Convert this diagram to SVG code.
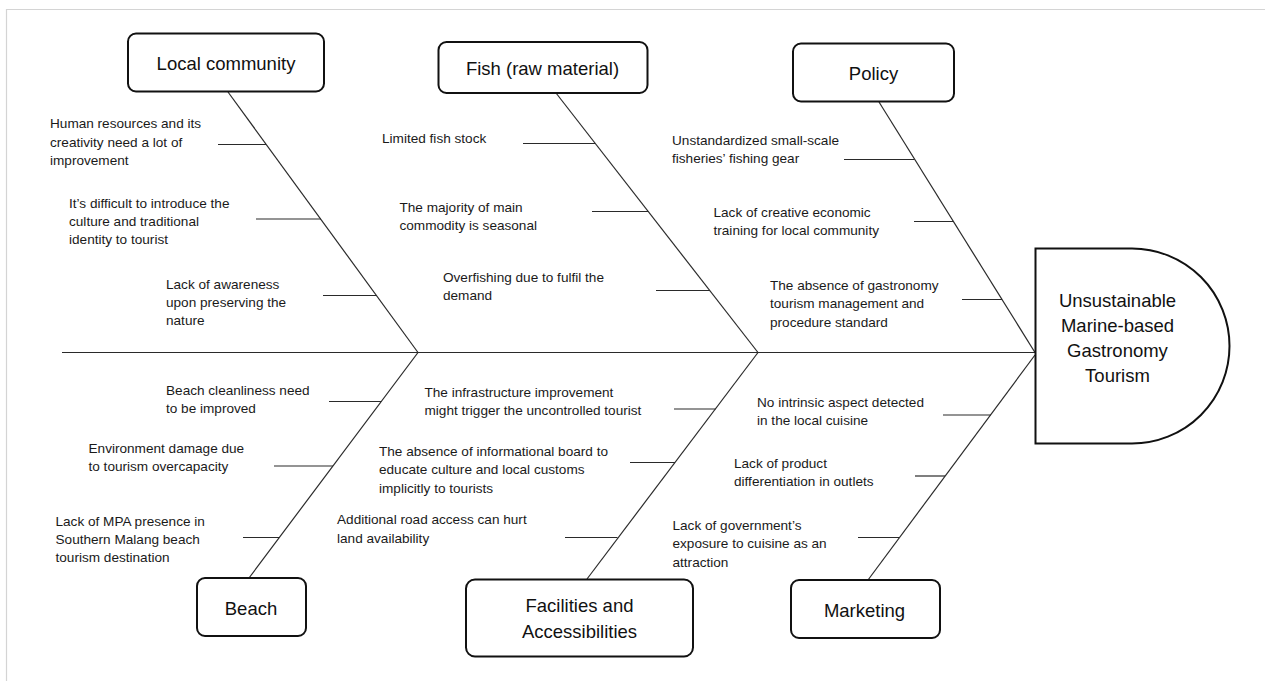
<svg xmlns="http://www.w3.org/2000/svg" width="1265" height="681" viewBox="0 0 1265 681">
<style>
.box{fill:#fff;stroke:#111;stroke-width:2}
.ln{stroke:#2a2a2a;stroke-width:1.2;fill:none}
.t{font-family:"Liberation Sans",Arial,sans-serif;font-size:13.6px;fill:#1a1a1a}
.h{font-family:"Liberation Sans",Arial,sans-serif;font-size:18.5px;fill:#111;text-anchor:middle}
</style>
<rect x="0" y="0" width="1265" height="681" fill="#fff"/>
<path d="M6.5,681 V9.5 H1265" fill="none" stroke="#d4d4d4" stroke-width="1.2"/>
<g id="connectors">
<line class="ln" x1="62" y1="352.5" x2="1035" y2="352.5"/>
<line class="ln" x1="228" y1="92" x2="418" y2="352.5"/>
<line class="ln" x1="556" y1="93" x2="758" y2="352.5"/>
<line class="ln" x1="879" y1="102" x2="1035" y2="352.5"/>
<line class="ln" x1="418" y1="352.5" x2="249" y2="578"/>
<line class="ln" x1="758" y1="352.5" x2="587" y2="579"/>
<line class="ln" x1="1035" y1="355" x2="868" y2="580"/>
<line class="ln" x1="218" y1="144.5" x2="266" y2="144.5"/>
<line class="ln" x1="256" y1="219" x2="321" y2="219"/>
<line class="ln" x1="323" y1="295.5" x2="377" y2="295.5"/>
<line class="ln" x1="523" y1="143.5" x2="595" y2="143.5"/>
<line class="ln" x1="592" y1="211.5" x2="648.5" y2="211.5"/>
<line class="ln" x1="656" y1="290.5" x2="710" y2="290.5"/>
<line class="ln" x1="844" y1="159.5" x2="914.5" y2="159.5"/>
<line class="ln" x1="914" y1="221.5" x2="953.5" y2="221.5"/>
<line class="ln" x1="962" y1="299.5" x2="1002" y2="299.5"/>
<line class="ln" x1="329" y1="401.5" x2="381.5" y2="401.5"/>
<line class="ln" x1="274" y1="466" x2="333" y2="466"/>
<line class="ln" x1="243" y1="537.5" x2="279.5" y2="537.5"/>
<line class="ln" x1="674" y1="409" x2="715.5" y2="409"/>
<line class="ln" x1="630" y1="462.5" x2="675" y2="462.5"/>
<line class="ln" x1="565" y1="537.5" x2="617.5" y2="537.5"/>
<line class="ln" x1="943" y1="415" x2="991" y2="415"/>
<line class="ln" x1="915" y1="476" x2="945" y2="476"/>
<line class="ln" x1="858" y1="537.5" x2="899" y2="537.5"/>
</g>
<g id="head">
<path class="box" d="M1035.5,248.5 H1132 A97.5,97.5 0 0 1 1132,443.5 H1035.5 Z"/>
<text class="h"><tspan x="1117.5" y="306.5">Unsustainable</tspan><tspan x="1117.5" y="331.5">Marine-based</tspan><tspan x="1117.5" y="356.5">Gastronomy</tspan><tspan x="1117.5" y="381.5">Tourism</tspan></text>
</g>
<g id="cat-local-community">
<rect class="box" x="128" y="33.5" width="196" height="58" rx="8"/>
<text class="h" x="226" y="70">Local community</text>
</g>
<g id="cat-fish">
<rect class="box" x="438.5" y="42" width="209" height="51" rx="8"/>
<text class="h" x="542.5" y="74.5">Fish (raw material)</text>
</g>
<g id="cat-policy">
<rect class="box" x="793" y="43.5" width="161" height="58" rx="8"/>
<text class="h" x="873.5" y="79.5">Policy</text>
</g>
<g id="cat-beach">
<rect class="box" x="197" y="578" width="109" height="58" rx="8"/>
<text class="h" x="251" y="614.5">Beach</text>
</g>
<g id="cat-facilities">
<rect class="box" x="466" y="579.5" width="227" height="77" rx="9"/>
<text class="h"><tspan x="579.5" y="611.5">Facilities and</tspan><tspan x="579.5" y="638">Accessibilities</tspan></text>
</g>
<g id="cat-marketing">
<rect class="box" x="791" y="580" width="149" height="58" rx="8"/>
<text class="h" x="864.5" y="616.5">Marketing</text>
</g>
<g id="cause-lc1"><text class="t"><tspan x="50" y="128.3">Human resources and its</tspan><tspan x="50" y="146.6">creativity need a lot of</tspan><tspan x="50" y="164.9">improvement</tspan></text></g>
<g id="cause-lc2"><text class="t"><tspan x="69" y="207.5">It’s difficult to introduce the</tspan><tspan x="69" y="225.8">culture and traditional</tspan><tspan x="69" y="244.1">identity to tourist</tspan></text></g>
<g id="cause-lc3"><text class="t"><tspan x="166" y="288.7">Lack of awareness</tspan><tspan x="166" y="307">upon preserving the</tspan><tspan x="166" y="325.3">nature</tspan></text></g>
<g id="cause-f1"><text class="t" x="382" y="142.7">Limited fish stock</text></g>
<g id="cause-f2"><text class="t"><tspan x="399.5" y="212">The majority of main</tspan><tspan x="399.5" y="230.3">commodity is seasonal</tspan></text></g>
<g id="cause-f3"><text class="t"><tspan x="443" y="281.7">Overfishing due to fulfil the</tspan><tspan x="443" y="300">demand</tspan></text></g>
<g id="cause-p1"><text class="t"><tspan x="672" y="145">Unstandardized small-scale</tspan><tspan x="672" y="163.3">fisheries’ fishing gear</tspan></text></g>
<g id="cause-p2"><text class="t"><tspan x="713.5" y="216.7">Lack of creative economic</tspan><tspan x="713.5" y="235">training for local community</tspan></text></g>
<g id="cause-p3"><text class="t"><tspan x="770" y="290">The absence of gastronomy</tspan><tspan x="770" y="308.3">tourism management and</tspan><tspan x="770" y="326.6">procedure standard</tspan></text></g>
<g id="cause-b1"><text class="t"><tspan x="166" y="394.8">Beach cleanliness need</tspan><tspan x="166" y="413.1">to be improved</tspan></text></g>
<g id="cause-b2"><text class="t"><tspan x="88.5" y="452.5">Environment damage due</tspan><tspan x="88.5" y="470.8">to tourism overcapacity</tspan></text></g>
<g id="cause-b3"><text class="t"><tspan x="55.5" y="525.5">Lack of MPA presence in</tspan><tspan x="55.5" y="543.8">Southern Malang beach</tspan><tspan x="55.5" y="562.1">tourism destination</tspan></text></g>
<g id="cause-fa1"><text class="t"><tspan x="424.5" y="396.7">The infrastructure improvement</tspan><tspan x="424.5" y="415">might trigger the uncontrolled tourist</tspan></text></g>
<g id="cause-fa2"><text class="t"><tspan x="379" y="456">The absence of informational board to</tspan><tspan x="379" y="474.3">educate culture and local customs</tspan><tspan x="379" y="492.6">implicitly to tourists</tspan></text></g>
<g id="cause-fa3"><text class="t"><tspan x="337" y="524.3">Additional road access can hurt</tspan><tspan x="337" y="542.6">land availability</tspan></text></g>
<g id="cause-m1"><text class="t"><tspan x="757" y="406.7">No intrinsic aspect detected</tspan><tspan x="757" y="425">in the local cuisine</tspan></text></g>
<g id="cause-m2"><text class="t"><tspan x="734" y="467.7">Lack of product</tspan><tspan x="734" y="486">differentiation in outlets</tspan></text></g>
<g id="cause-m3"><text class="t"><tspan x="672.5" y="530">Lack of government’s</tspan><tspan x="672.5" y="548.3">exposure to cuisine as an</tspan><tspan x="672.5" y="566.6">attraction</tspan></text></g>
</svg>
